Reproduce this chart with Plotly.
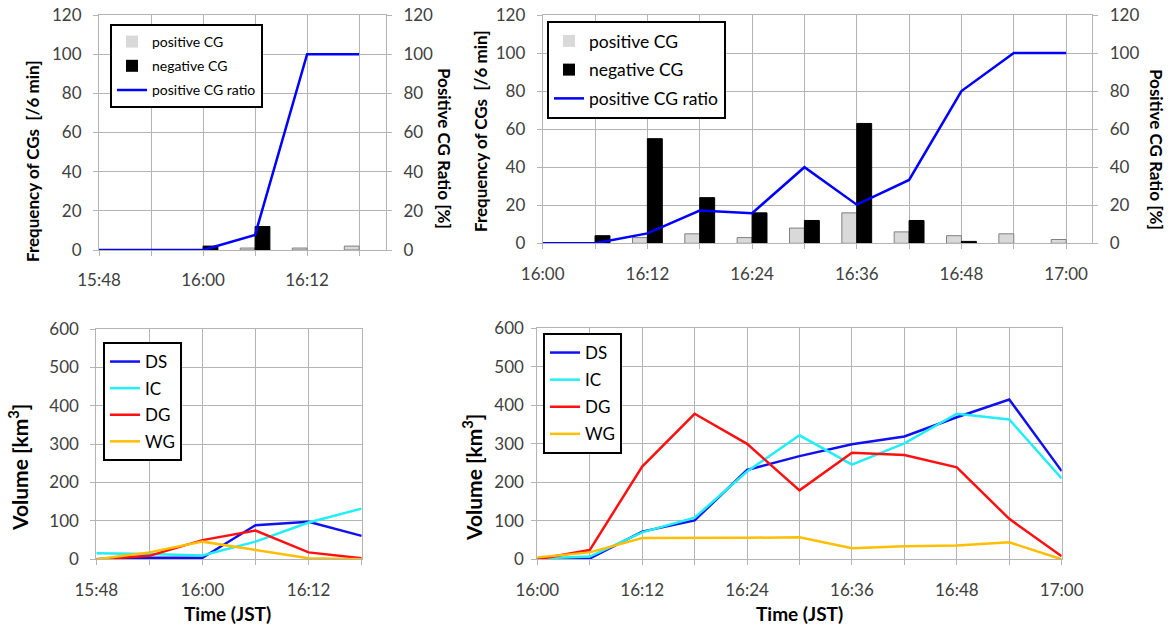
import plotly.graph_objects as go

# ---------------- data ----------------
times_early = ["15:48", "15:54", "16:00", "16:06", "16:12", "16:18"]
times_late = ["16:00", "16:06", "16:12", "16:18", "16:24", "16:30",
              "16:36", "16:42", "16:48", "16:54", "17:00"]

# CG lightning (top-left, early period)
pos_cg_early = [0, 0, 0, 1, 1, 2]
neg_cg_early = [0, 0, 2, 12, 0, 0]
ratio_early = [0, 0, 0, 7.7, 100, 100]

# CG lightning (top-right, late period)
pos_cg_late = [0, 0, 3, 5, 3, 8, 16, 6, 4, 5, 2]
neg_cg_late = [0, 4, 55, 24, 16, 12, 63, 12, 1, 0, 0]
ratio_late = [0, 0, 5.2, 17.2, 15.8, 40, 20.3, 33.3, 80, 100, 100]

# Volumes (bottom-left, early period) [km3]
ds_early = [0, 4, 4, 89, 98, 61]
ic_early = [16, 14, 10, 46, 96, 132]
dg_early = [0, 9, 50, 75, 18, 3]
wg_early = [0, 18, 46, 24, 3, 0]

# Volumes (bottom-right, late period) [km3]
ds_late = [0, 2, 72, 101, 232, 268, 299, 319, 369, 415, 229]
ic_late = [2, 7, 70, 108, 228, 322, 246, 301, 378, 363, 210]
dg_late = [0, 24, 241, 378, 300, 179, 277, 271, 239, 105, 8]
wg_late = [5, 18, 55, 55, 56, 57, 29, 34, 36, 44, 0]

DAY = "2020-07-01 "
xe = [DAY + t for t in times_early]
xl = [DAY + t for t in times_late]

W, H = 1173, 631
FONT = "Lato, Open Sans, sans-serif"
GRID = "#b4b4b4"
TICKC = "#404040"


def fx(px):
    return px / W


def fy(py):
    return 1 - py / H


def outline(vals, w=1):
    return [w if v > 0 else 0 for v in vals]


fig = go.Figure()

# ---- top-left ----
fig.add_trace(go.Bar(x=xe, y=pos_cg_early, name="positive CG",
                     marker=dict(color="#d9d9d9", line=dict(color="#808080", width=outline(pos_cg_early))),
                     xaxis="x", yaxis="y", legend="legend", legendgroup="a1"))
fig.add_trace(go.Bar(x=xe, y=neg_cg_early, name="negative CG",
                     marker=dict(color="black", line=dict(color="black", width=outline(neg_cg_early))),
                     xaxis="x", yaxis="y", legend="legend", legendgroup="a2"))
fig.add_trace(go.Scatter(x=xe, y=ratio_early, name="positive CG ratio", mode="lines", line=dict(color="#0000ff", width=2.5),
                         xaxis="x", yaxis="y2", legend="legend", legendgroup="a3"))

# ---- top-right ----
fig.add_trace(go.Bar(x=xl, y=pos_cg_late, name="positive CG",
                     marker=dict(color="#d9d9d9", line=dict(color="#808080", width=outline(pos_cg_late))),
                     xaxis="x2", yaxis="y3", legend="legend2", legendgroup="b1"))
fig.add_trace(go.Bar(x=xl, y=neg_cg_late, name="negative CG",
                     marker=dict(color="black", line=dict(color="black", width=outline(neg_cg_late))),
                     xaxis="x2", yaxis="y3", legend="legend2", legendgroup="b2"))
fig.add_trace(go.Scatter(x=xl, y=ratio_late, name="positive CG ratio", mode="lines", line=dict(color="#0000ff", width=2.5),
                         xaxis="x2", yaxis="y4", legend="legend2", legendgroup="b3"))

# ---- bottom ----
series_cols = [("DS", "#1010f0"), ("IC", "#22eef5"), ("DG", "#ff1010"), ("WG", "#ffbf00")]
early_vals = [ds_early, ic_early, dg_early, wg_early]
late_vals = [ds_late, ic_late, dg_late, wg_late]
for i, ((nm, col), v) in enumerate(zip(series_cols, early_vals)):
    fig.add_trace(go.Scatter(x=xe, y=v, name=nm, mode="lines", line=dict(color=col, width=2.5),
                             xaxis="x3", yaxis="y5", legend="legend3", legendgroup="c%d" % i))
for i, ((nm, col), v) in enumerate(zip(series_cols, late_vals)):
    fig.add_trace(go.Scatter(x=xl, y=v, name=nm, mode="lines", line=dict(color=col, width=2.5),
                             xaxis="x4", yaxis="y6", legend="legend4", legendgroup="d%d" % i))


def xax(x0, x1, r0, r1, tick0):
    return dict(domain=[fx(x0), fx(x1)], type="date", range=[DAY + r0, DAY + r1],
                tick0=DAY + tick0, dtick=720000, tickformat="%H:%M",
                showgrid=True, gridcolor=GRID, gridwidth=1,
                showline=True, linecolor=GRID, linewidth=1, mirror=True,
                ticks="outside", ticklen=5, tickcolor=GRID,
                tickfont=dict(size=17, color=TICKC, family=FONT),
                ticklabelstandoff=10, automargin=False,
                minor=dict(dtick=360000, showgrid=True, gridcolor=GRID, gridwidth=1,
                           ticks="outside", ticklen=5, tickcolor=GRID),
                zeroline=False, fixedrange=True)


def yax(y0, y1, rmax, dt, anchor, standoff=8):
    return dict(domain=[fy(y1), fy(y0)], range=[0, rmax], dtick=dt, anchor=anchor,
                showgrid=True, gridcolor=GRID, gridwidth=1.3,
                showline=True, linecolor=GRID, linewidth=1, mirror=True,
                ticks="outside", ticklen=5, tickcolor=GRID,
                tickfont=dict(size=17, color=TICKC, family=FONT),
                ticklabelstandoff=standoff, automargin=False, zeroline=False, fixedrange=True)


def yax_right(overlay, anchor):
    return dict(overlaying=overlay, side="right", anchor=anchor, range=[0, 120], dtick=20,
                showgrid=False, showline=False, ticks="outside", ticklen=5, tickcolor=GRID,
                tickfont=dict(size=17, color=TICKC, family=FONT),
                ticklabelstandoff=8, automargin=False, zeroline=False, fixedrange=True)


layout = dict(
    width=W, height=H, margin=dict(l=0, r=0, t=0, b=0, autoexpand=False),
    paper_bgcolor="white", plot_bgcolor="white",
    font=dict(family=FONT, color="black"),
    barmode="group", bargap=0.43, bargroupgap=0,
    xaxis=xax(99, 386, "15:48", "16:21:06", "15:48"),
    yaxis=yax(15, 250, 120, 20, "x"),
    yaxis2=yax_right("y", "x"),
    xaxis2=xax(542.7, 1092.3, "16:00", "17:03", "16:00"),
    yaxis3=yax(15, 243.3, 120, 20, "x2"),
    yaxis4=yax_right("y3", "x2"),
    xaxis3=xax(96.3, 361.7, "15:48", "16:18", "15:48"),
    yaxis5=yax(329, 559.3, 600, 100, "x3"),
    xaxis4=xax(537.3, 1061.7, "16:00", "17:00", "16:00"),
    yaxis6=yax(328.3, 559.3, 600, 100, "x4", standoff=4),
)
layout["xaxis"]["anchor"] = "y"
layout["xaxis2"]["anchor"] = "y3"
layout["xaxis3"]["anchor"] = "y5"
layout["xaxis4"]["anchor"] = "y6"


def leg(x, y, size, gap):
    return dict(x=fx(x), y=fy(y), xanchor="left", yanchor="top", bgcolor="white",
                bordercolor="black", borderwidth=2, font=dict(size=size, color="black", family=FONT),
                tracegroupgap=gap, traceorder="grouped", itemclick=False)


layout["legend"] = leg(110, 24, 14, 3)
layout["legend2"] = leg(547, 21, 17.5, 3)
layout["legend3"] = leg(103, 342, 17, 1.5)
layout["legend4"] = leg(543, 333, 17, 2)

fig.update_layout(**layout)

ann = [
    dict(text="Frequency of CGs  [/6 min]", x=32, y=161, angle=-90, size=17),
    dict(text="Positive CG Ratio [%]", x=445, y=148, angle=90, size=17),
    dict(text="Frequency of CGs  [/6 min]", x=480, y=131, angle=-90, size=17),
    dict(text="Positive CG Ratio [%]", x=1156, y=149, angle=90, size=17),
    dict(text="Volume [km<sup>3</sup>]", x=18, y=468, angle=-90, size=21),
    dict(text="Volume [km<sup>3</sup>]", x=472, y=478, angle=-90, size=21),
    dict(text="Time (JST)", x=228, y=613, angle=0, size=19),
    dict(text="Time (JST)", x=799, y=613, angle=0, size=19),
]
for a in ann:
    fig.add_annotation(text="<b>%s</b>" % a["text"], x=fx(a["x"]), y=fy(a["y"]), xref="paper", yref="paper",
                       xanchor="center", yanchor="middle", textangle=a["angle"], showarrow=False,
                       font=dict(size=a["size"], color="black", family=FONT))

fig.write_html("out.html")
